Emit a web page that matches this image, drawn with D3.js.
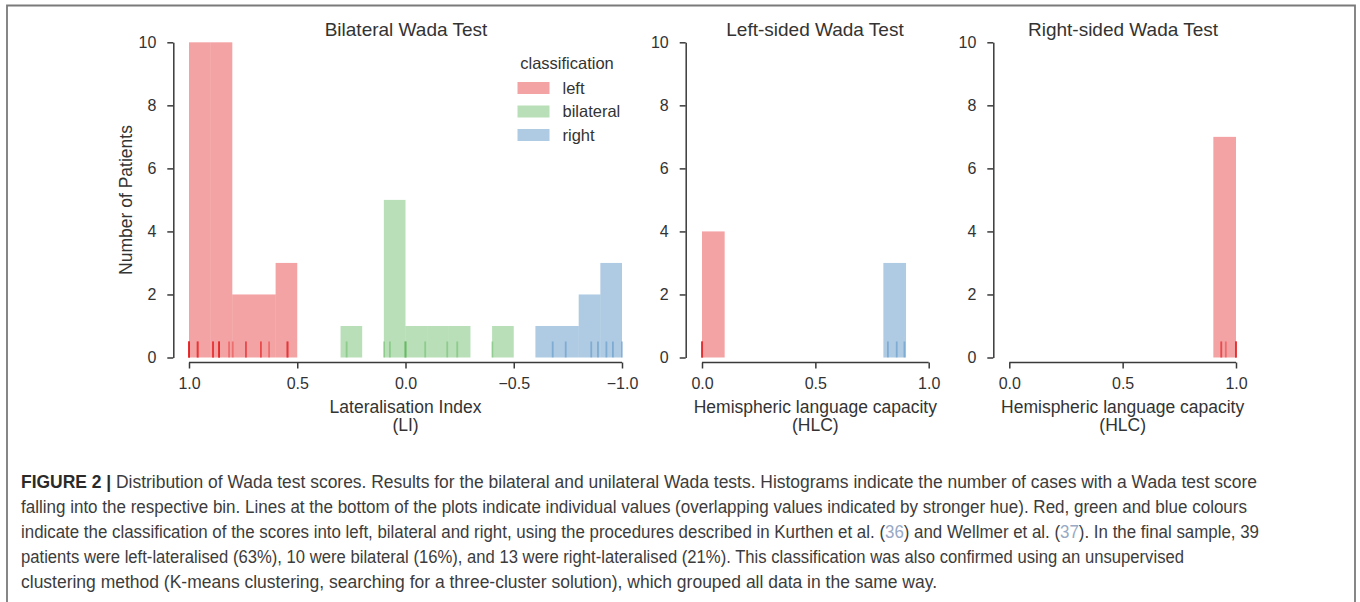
<!DOCTYPE html>
<html>
<head>
<meta charset="utf-8">
<script src="https://cdn.jsdelivr.net/npm/d3@7"></script>
<style>
  body { margin: 0; background: #fff; }
  svg { display: block; font-family: "Liberation Sans", Arial, sans-serif; }
  .axis path, .axis line { stroke: #3a3a3a; stroke-width: 1.5; }
  .axis text { fill: #333; font-size: 16px; font-family: "Liberation Sans", Arial, sans-serif; }
</style>
</head>
<body>
<svg id="chart" width="1360" height="602"></svg>
<script>
// classes and colours (Set1)
const classes = ["left", "bilateral", "right"];
const classColors = ["#e41a1c", "#4daf4a", "#377eb8"];

// Bilateral Wada test, lateralisation index histograms (bin edges + counts)
const liLeftEdges = [1.0, 0.9, 0.8, 0.7, 0.6, 0.5];
const liLeftCounts = [10, 10, 2, 2, 3];
const liBilatEdges = [0.3, 0.2, 0.1, 0.0, -0.1, -0.2, -0.3, -0.4, -0.5];
const liBilatCounts = [1, 0, 5, 1, 1, 1, 0, 1];
const liRightEdges = [-0.6, -0.7, -0.8, -0.9, -1.0];
const liRightCounts = [1, 1, 2, 3];

// individual values (rug), repeated values = overlapping
const liLeftRug = [1.0, 1.0, 1.0, 1.0, 1.0, 0.96, 0.96, 0.96, 0.889, 0.889, 0.889, 0.861, 0.861, 0.861, 0.861,
  0.815, 0.798, 0.737, 0.737, 0.668, 0.668, 0.63, 0.545, 0.545, 0.545];
const liBilatRug = [0.272, 0.099, 0.072, 0.0, 0.0, 0.0, -0.091, -0.193, -0.239, -0.401];
const liRightRug = [-0.68, -0.74, -0.858, -0.889, -0.928, -0.958, -1.0];

// Left-sided Wada test, HLC
const lsLeftEdges = [0.0, 0.1];
const lsLeftCounts = [4];
const lsRightEdges = [0.8, 0.9];
const lsRightCounts = [3];
const lsLeftRug = [0.0, 0.0, 0.0, 0.0];
const lsRightRug = [0.82, 0.859, 0.893];

// Right-sided Wada test, HLC
const rsLeftEdges = [0.9, 1.0];
const rsLeftCounts = [7];
const rsLeftRug = [0.935, 0.935, 0.955, 1.0, 1.0, 1.0, 1.0];

// tick labels
const liTicks = [1.0, 0.5, 0.0, -0.5, -1.0];
const hlcTicks = [0.0, 0.5, 1.0];
const countTicks = [0, 2, 4, 6, 8, 10];

const captionLines = [
  "FIGURE 2 | Distribution of Wada test scores. Results for the bilateral and unilateral Wada tests. Histograms indicate the number of cases with a Wada test score",
  "falling into the respective bin. Lines at the bottom of the plots indicate individual values (overlapping values indicated by stronger hue). Red, green and blue colours",
  "indicate the classification of the scores into left, bilateral and right, using the procedures described in Kurthen et al. (36) and Wellmer et al. (37). In the final sample, 39",
  "patients were left-lateralised (63%), 10 were bilateral (16%), and 13 were right-lateralised (21%). This classification was also confirmed using an unsupervised",
  "clustering method (K-means clustering, searching for a three-cluster solution), which grouped all data in the same way."
];

const svg = d3.select("#chart");

// frame around the figure
svg.append("path")
  .attr("d", "M7,602 V5.5 H1355 V602")
  .attr("fill", "none")
  .attr("stroke", "#7a7a7a")
  .attr("stroke-width", 1.8);

const y = d3.scaleLinear().domain([0, 10]).range([357.5, 42.3]);
const fmt = d => (d < 0 ? "\u2212" : "") + Math.abs(d).toFixed(1);

function drawPanel(p) {
  const x = d3.scaleLinear().domain(p.domain).range(p.range);
  const g = svg.append("g");

  // histogram bars
  p.hists.forEach(h => {
    const bins = h.counts.map((c, i) => ({ a: h.edges[i], b: h.edges[i + 1], c: c }));
    g.append("g").selectAll("rect")
      .data(bins.filter(d => d.c > 0))
      .enter()
      .append("rect")
      .attr("x", d => Math.min(x(d.a), x(d.b)))
      .attr("width", d => Math.abs(x(d.b) - x(d.a)))
      .attr("y", d => y(d.c))
      .attr("height", d => y(0) - y(d.c))
      .attr("fill", classColors[h.cls])
      .attr("fill-opacity", 0.4);
  });

  // rug lines
  p.rugs.forEach(r => {
    g.append("g").selectAll("line")
      .data(r.values)
      .enter()
      .append("line")
      .attr("x1", d => x(d)).attr("x2", d => x(d))
      .attr("y1", y(0) - 16).attr("y2", y(0))
      .attr("stroke", classColors[r.cls])
      .attr("stroke-opacity", 0.4)
      .attr("stroke-width", 1.8);
  });

  // y axis
  g.append("g")
    .attr("class", "axis")
    .attr("transform", "translate(" + p.yAxisX + ",0)")
    .call(d3.axisLeft(y).tickValues(countTicks).tickSize(6).tickSizeOuter(0).tickPadding(11));

  // x axis
  const xa = g.append("g")
    .attr("class", "axis")
    .attr("transform", "translate(0,362.5)")
    .call(d3.axisBottom(x).tickValues(p.ticks).tickFormat(fmt).tickSize(6).tickSizeOuter(0).tickPadding(9));
  xa.select(".domain").attr("d", "M" + p.range[0] + ",0H" + p.range[1]);

  // title
  g.append("text")
    .attr("x", p.titleX).attr("y", 36)
    .attr("text-anchor", "middle")
    .attr("font-size", 19)
    .attr("fill", "#333")
    .text(p.title);

  // x label (two lines)
  const cx = (p.range[0] + p.range[1]) / 2;
  p.xLabel.forEach((t, i) => {
    g.append("text")
      .attr("x", cx).attr("y", 412.5 + i * 18)
      .attr("text-anchor", "middle")
      .attr("font-size", 17.5)
      .attr("fill", "#333")
      .text(t);
  });
}

drawPanel({
  domain: [1, -1], range: [189, 622], yAxisX: 173.3,
  ticks: liTicks, title: "Bilateral Wada Test", titleX: 406,
  xLabel: ["Lateralisation Index", "(LI)"],
  hists: [
    { cls: 0, edges: liLeftEdges, counts: liLeftCounts },
    { cls: 1, edges: liBilatEdges, counts: liBilatCounts },
    { cls: 2, edges: liRightEdges, counts: liRightCounts }
  ],
  rugs: [
    { cls: 0, values: liLeftRug },
    { cls: 1, values: liBilatRug },
    { cls: 2, values: liRightRug }
  ]
});

drawPanel({
  domain: [0, 1], range: [702, 928.7], yAxisX: 685.7,
  ticks: hlcTicks, title: "Left-sided Wada Test", titleX: 815,
  xLabel: ["Hemispheric language capacity", "(HLC)"],
  hists: [
    { cls: 0, edges: lsLeftEdges, counts: lsLeftCounts },
    { cls: 2, edges: lsRightEdges, counts: lsRightCounts }
  ],
  rugs: [
    { cls: 0, values: lsLeftRug },
    { cls: 2, values: lsRightRug }
  ]
});

drawPanel({
  domain: [0, 1], range: [1009.3, 1236], yAxisX: 993.3,
  ticks: hlcTicks, title: "Right-sided Wada Test", titleX: 1123,
  xLabel: ["Hemispheric language capacity", "(HLC)"],
  hists: [
    { cls: 0, edges: rsLeftEdges, counts: rsLeftCounts }
  ],
  rugs: [
    { cls: 0, values: rsLeftRug }
  ]
});

// y label
svg.append("text")
  .attr("transform", "translate(132,200) rotate(-90)")
  .attr("text-anchor", "middle")
  .attr("font-size", 17.5)
  .attr("fill", "#333")
  .text("Number of Patients");

// legend
const legend = svg.append("g");
legend.append("text")
  .attr("x", 567).attr("y", 69)
  .attr("text-anchor", "middle")
  .attr("font-size", 16.5)
  .attr("fill", "#333")
  .text("classification");
classes.forEach((c, i) => {
  const ly = 88 + i * 23.5;
  legend.append("rect")
    .attr("x", 517.5).attr("y", ly - 6)
    .attr("width", 32).attr("height", 12)
    .attr("fill", classColors[i]).attr("fill-opacity", 0.4);
  legend.append("text")
    .attr("x", 562.5).attr("y", ly + 5.5)
    .attr("font-size", 16.5)
    .attr("fill", "#333")
    .text(c);
});

// caption, each line stretched to where it ends in the reference
const captionEnds = [1257, 1247, 1259, 1184, 937];
captionLines.forEach((line, i) => {
  const t = svg.append("text")
    .attr("x", 21).attr("y", 488 + i * 25)
    .attr("font-size", 17.5)
    .attr("fill", "#3c3c3c")
    .attr("textLength", captionEnds[i] - 21)
    .attr("lengthAdjust", "spacingAndGlyphs");
  let rest = line;
  if (i === 0) {
    t.append("tspan").attr("font-weight", "bold").attr("fill", "#2a2a2a").text("FIGURE 2 |");
    rest = line.slice("FIGURE 2 |".length);
  }
  const parts = rest.split(/\((\d+)\)/);
  parts.forEach((s, k) => {
    if (k % 2 === 0) {
      t.append("tspan").text(s);
    } else {
      t.append("tspan").text("(" );
      t.append("tspan").attr("fill", "#97a9c4").text(s);
      t.append("tspan").text(")");
    }
  });
});
</script>
</body>
</html>
